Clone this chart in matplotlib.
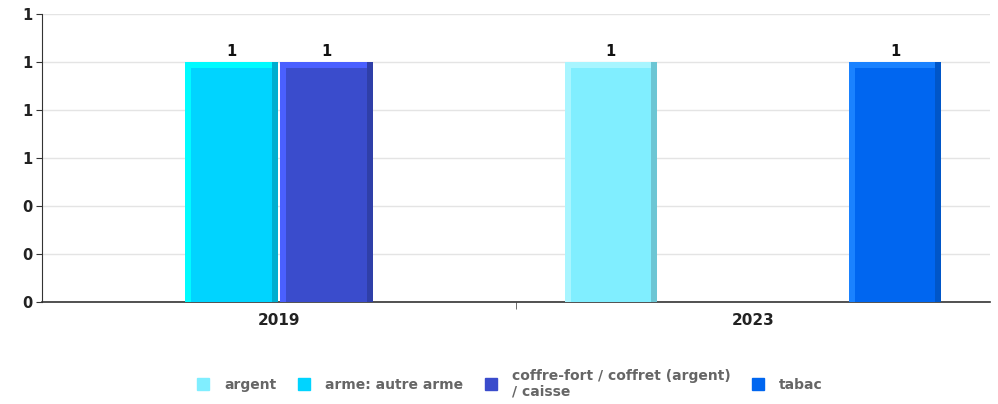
# -*- coding: utf-8 -*-

import numpy as np
import matplotlib
matplotlib.use('Agg')
import matplotlib.pyplot as plt
from matplotlib.lines import Line2D

years = ['2019', '2023']
series_names = ['argent', 'arme: autre arme',
                'coffre-fort / coffret (argent)\n/ caisse', 'tabac']
argent = [0, 1]
arme = [1, 0]
coffre = [1, 0]
tabac = [0, 1]
y_ticks = [0, 0.2, 0.4, 0.6, 0.8, 1.0, 1.2]

values = [argent, arme, coffre, tabac]
# main, light edge, dark edge
colors = [('#80eeff', '#a8f5ff', '#6cc6d4'),
          ('#00d4ff', '#00fbff', '#00aecf'),
          ('#3a4ccc', '#4a60ff', '#2f3fa8'),
          ('#0066f0', '#1a82ff', '#0056c8')]


def draw_bar(ax, x, h, w, col):
    main, light, dark = col
    ax.bar(x, h, w, color=main, zorder=3)
    e = w * 0.065
    ax.bar(x - w / 2 + e / 2, h, e, color=light, zorder=4)
    ax.bar(x + w / 2 - e / 2, h, e, color=dark, zorder=4)
    ax.bar(x, 0.025, w - 2 * e, bottom=h - 0.025, color=light, zorder=4)


def draw_chart():
    fig = plt.figure(figsize=(9.98, 4.04), dpi=100)
    ax = fig.add_axes([42 / 998, 102 / 404, 948 / 998, 288 / 404])
    x = np.arange(len(years))
    w = 0.195
    offsets = [-0.3, -0.1, 0.1, 0.3]
    for i, vals in enumerate(values):
        for j, v in enumerate(vals):
            if v:
                draw_bar(ax, x[j] + offsets[i], v, w, colors[i])
                ax.text(x[j] + offsets[i], v + 0.012, '%d' % v, ha='center',
                        va='bottom', fontsize=10.5, fontweight='bold', color='#111111')

    ax.set_xlim(-0.5, 1.5)
    ax.set_ylim(0, 1.2)
    ax.set_yticks(y_ticks)
    ax.set_yticklabels(['%.0f' % t for t in y_ticks], fontsize=10.5,
                       fontweight='bold', color='#222222')
    ax.set_xticks(x)
    ax.set_xticklabels(years, fontsize=11, fontweight='bold', color='#222222')
    ax.tick_params(axis='x', length=0, pad=8)
    ax.set_xticks([0.5], minor=True)
    ax.tick_params(axis='x', which='minor', length=5, color='#555555')
    ax.tick_params(axis='y', length=4, color='#333333', pad=3)
    ax.grid(axis='y', color='#e4e4e4', linewidth=1, zorder=0)
    for s in ['top', 'right']:
        ax.spines[s].set_visible(False)
    ax.spines['left'].set_color('#333333')
    ax.spines['bottom'].set_color('#333333')
    ax.spines['bottom'].set_linewidth(1.2)

    handles = [Line2D([], [], marker='s', linestyle='none', markersize=9,
                      markerfacecolor=c[0], markeredgecolor=c[0]) for c in colors]
    leg = fig.legend(handles, series_names, loc='center', ncol=4,
                     bbox_to_anchor=(0.507, 0.05), frameon=False,
                     handletextpad=0.5, columnspacing=1.0,
                     prop={'weight': 'bold', 'size': 10})
    for t in leg.get_texts():
        t.set_color('#666666')
    plt.savefig('out.png', dpi=100)
    plt.close('all')


if __name__ == "__main__":
    draw_chart()
